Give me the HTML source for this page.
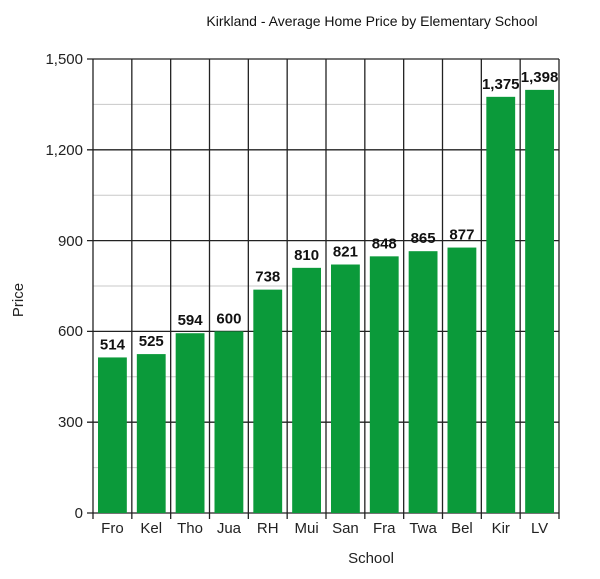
<!DOCTYPE html><html><head><style>body{margin:0;background:#fff}</style></head><body>
<svg width="600" height="574" xmlns="http://www.w3.org/2000/svg" font-family="Liberation Sans, sans-serif">
<text x="372" y="26" font-size="14" text-anchor="middle" fill="#111">Kirkland - Average Home Price by Elementary School</text>
<g stroke="#c8c8c8" stroke-width="1">
<line x1="93" x2="559" y1="104.4" y2="104.4"/><line x1="93" x2="559" y1="195.2" y2="195.2"/><line x1="93" x2="559" y1="286" y2="286"/><line x1="93" x2="559" y1="376.8" y2="376.8"/><line x1="93" x2="559" y1="467.6" y2="467.6"/>
</g>
<g stroke="#222" stroke-width="1.3">
<line x1="87" x2="559" y1="59" y2="59"/><line x1="87" x2="559" y1="149.8" y2="149.8"/><line x1="87" x2="559" y1="240.6" y2="240.6"/><line x1="87" x2="559" y1="331.4" y2="331.4"/><line x1="87" x2="559" y1="422.2" y2="422.2"/><line x1="87" x2="559" y1="513" y2="513"/>
<line x1="93" x2="93" y1="59" y2="519"/><line x1="131.83" x2="131.83" y1="59" y2="519"/><line x1="170.67" x2="170.67" y1="59" y2="519"/><line x1="209.5" x2="209.5" y1="59" y2="519"/><line x1="248.33" x2="248.33" y1="59" y2="519"/><line x1="287.17" x2="287.17" y1="59" y2="519"/><line x1="326" x2="326" y1="59" y2="519"/><line x1="364.83" x2="364.83" y1="59" y2="519"/><line x1="403.67" x2="403.67" y1="59" y2="519"/><line x1="442.5" x2="442.5" y1="59" y2="519"/><line x1="481.33" x2="481.33" y1="59" y2="519"/><line x1="520.17" x2="520.17" y1="59" y2="519"/><line x1="559" x2="559" y1="59" y2="519"/>
</g>
<g fill="#0b9a3a">
<rect x="98" y="357.43" width="28.83" height="155.57"/>
<rect x="136.83" y="354.1" width="28.83" height="158.9"/>
<rect x="175.67" y="333.22" width="28.83" height="179.78"/>
<rect x="214.5" y="331.4" width="28.83" height="181.6"/>
<rect x="253.33" y="289.63" width="28.83" height="223.37"/>
<rect x="292.17" y="267.84" width="28.83" height="245.16"/>
<rect x="331" y="264.51" width="28.83" height="248.49"/>
<rect x="369.83" y="256.34" width="28.83" height="256.66"/>
<rect x="408.67" y="251.19" width="28.83" height="261.81"/>
<rect x="447.5" y="247.56" width="28.83" height="265.44"/>
<rect x="486.33" y="96.83" width="28.83" height="416.17"/>
<rect x="525.17" y="89.87" width="28.83" height="423.13"/>
</g>
<g font-size="15" font-weight="bold" text-anchor="middle" fill="#111">
<text x="112.42" y="349.4">514</text><text x="151.25" y="346.1">525</text><text x="190.08" y="325.2">594</text><text x="228.92" y="323.4">600</text><text x="267.75" y="281.6">738</text><text x="306.58" y="259.8">810</text><text x="345.42" y="256.5">821</text><text x="384.25" y="248.3">848</text><text x="423.08" y="243.2">865</text><text x="461.92" y="239.6">877</text><text x="500.75" y="88.8">1,375</text><text x="539.58" y="81.9">1,398</text>
</g>
<g font-size="15" text-anchor="middle" fill="#222">
<text x="112.42" y="533">Fro</text><text x="151.25" y="533">Kel</text><text x="190.08" y="533">Tho</text><text x="228.92" y="533">Jua</text><text x="267.75" y="533">RH</text><text x="306.58" y="533">Mui</text><text x="345.42" y="533">San</text><text x="384.25" y="533">Fra</text><text x="423.08" y="533">Twa</text><text x="461.92" y="533">Bel</text><text x="500.75" y="533">Kir</text><text x="539.58" y="533">LV</text>
</g>
<g font-size="15" fill="#222" text-anchor="end">
<text x="83" y="64">1,500</text><text x="83" y="155">1,200</text><text x="83" y="246">900</text><text x="83" y="336">600</text><text x="83" y="427">300</text><text x="83" y="518">0</text>
</g>
<text x="371" y="563" font-size="15" text-anchor="middle" fill="#222">School</text>
<text x="23" y="300" font-size="15" text-anchor="middle" fill="#222" transform="rotate(-90 23 300)">Price</text>
</svg></body></html>
